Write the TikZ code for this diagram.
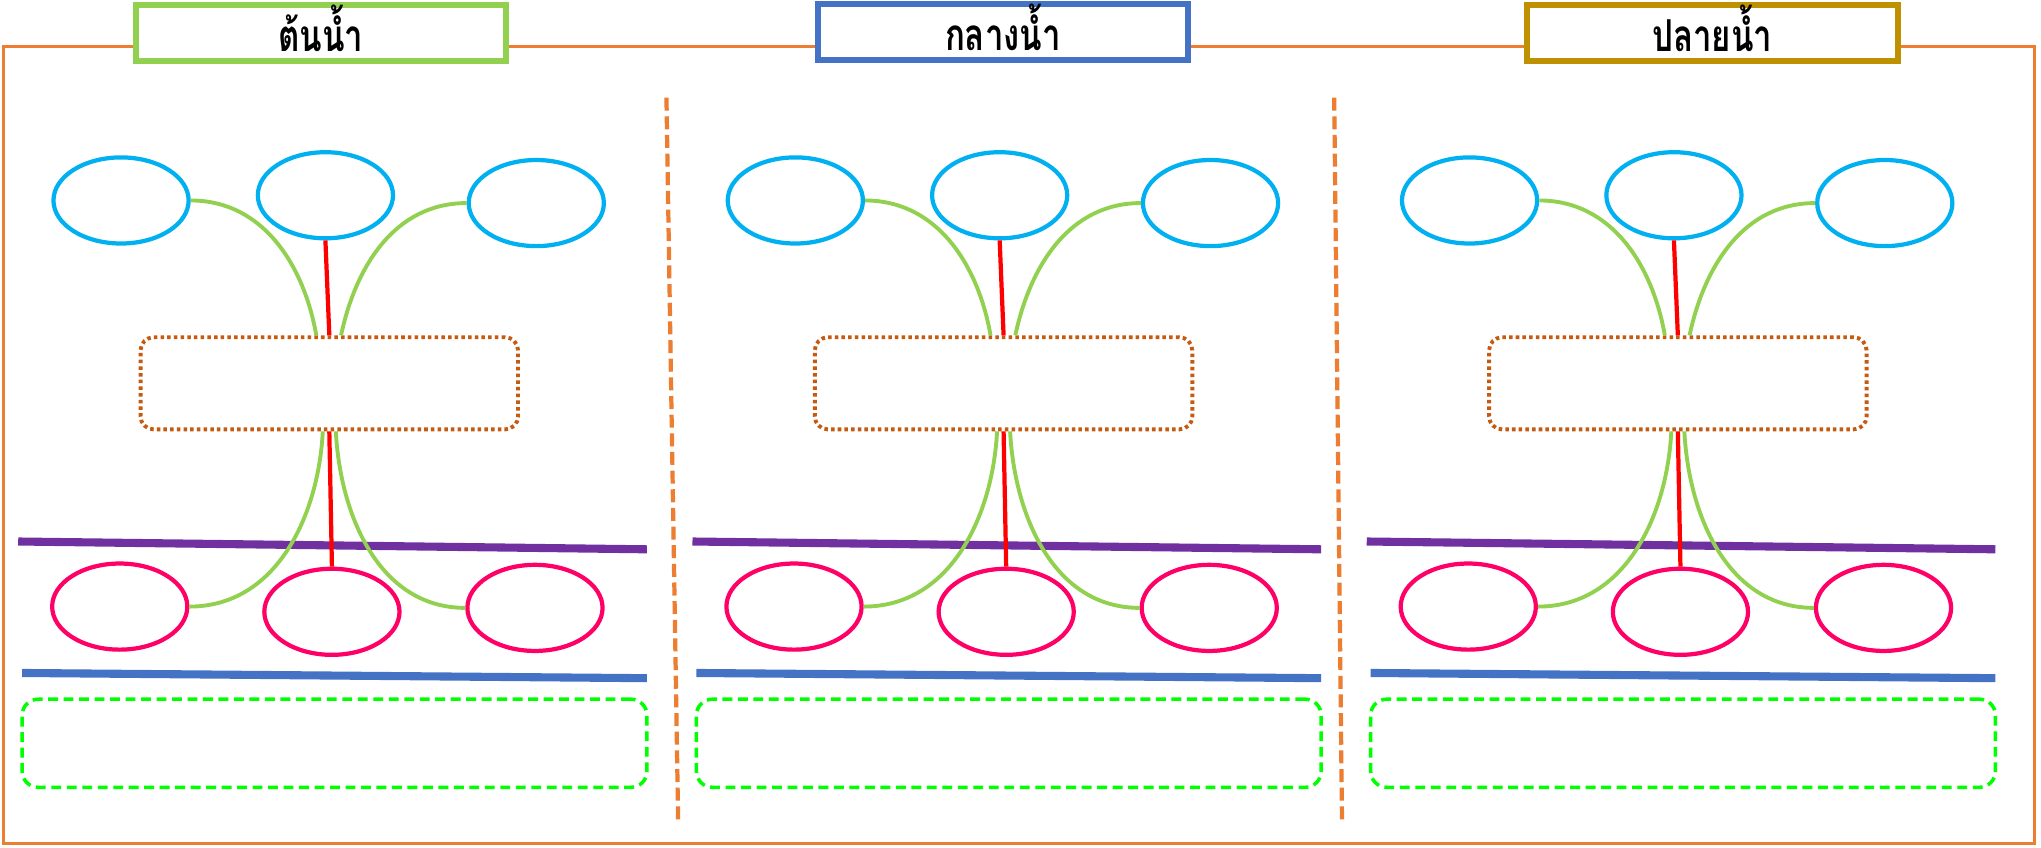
\documentclass[tikz,border=0pt]{standalone}
\usepackage{fontspec}
\newfontfamily\thaifont[Script=Thai,FakeStretch=0.75]{Loma}
\usetikzlibrary{shapes.geometric,calc}
\definecolor{frameorange}{HTML}{ED7D31}
\definecolor{headgreen}{HTML}{92D050}
\definecolor{headblue}{HTML}{4472C4}
\definecolor{headgold}{HTML}{BF9000}
\definecolor{skyblue}{HTML}{00B0F0}
\definecolor{rosered}{HTML}{FF0066}
\definecolor{rustbrown}{HTML}{C55A11}
\definecolor{riverpurple}{HTML}{7030A0}
\definecolor{brightgreen}{HTML}{00FF00}
\tikzset{
  oval/.style={ellipse, draw, line width=1.2pt, minimum width=1.35cm, minimum height=0.86cm, inner sep=0pt},
  topoval/.style={oval, draw=skyblue},
  lowoval/.style={oval, draw=rosered},
  notebox/.style={draw=rustbrown, line width=1.1pt, dash pattern=on 1pt off 0.9pt, rounded corners=0.13cm,
    minimum width=3.77cm, minimum height=0.92cm, inner sep=0pt},
  basebox/.style={draw=brightgreen, line width=1pt, dash pattern=on 2.8pt off 1.6pt, rounded corners=0.16cm,
    minimum width=6.24cm, minimum height=0.88cm, inner sep=0pt},
  headbox/.style={draw, fill=white, line width=1.7pt, minimum width=3.7cm, minimum height=0.56cm, inner sep=0pt,
    text height=11pt, text depth=0.4pt, font=\thaifont\fontsize{12.5}{14}\selectfont\bfseries},
  link/.style={headgreen, line width=1.1pt},
  stem/.style={red, line width=1.2pt},
  divider/.style={frameorange, line width=1.2pt, dash pattern=on 3.7pt off 1.6pt}
}
\begin{document}
\begin{tikzpicture}[x=0.013cm,y=0.013cm]
\useasboundingbox (0,0) rectangle (1568,-651);
% outer frame and dividers
\draw[frameorange, line width=0.8pt] (3,-36) rectangle (1563,-648);
\draw[divider] (512,-75) -- (521,-632);
\draw[divider] (1025,-75) -- (1031,-632);
% three panels
\foreach \i/\dx in {1/0,2/518,3/1036}{
  \draw[riverpurple, line width=2.3pt] (\dx+14,-416) -- (\dx+497,-422);
  \draw[headblue, line width=2.3pt] (\dx+17,-517) -- (\dx+497,-521);
  \node[topoval] (tl\i) at (\dx+93,-154) {};
  \node[topoval] (tm\i) at (\dx+250,-150) {};
  \node[topoval] (tr\i) at (\dx+412,-156) {};
  \node[notebox] (box\i) at (\dx+253,-294.5) {};
  \node[lowoval] (bl\i) at (\dx+92,-466) {};
  \node[lowoval] (bm\i) at (\dx+255,-470) {};
  \node[lowoval] (br\i) at (\dx+411,-467) {};
  \node[basebox] (base\i) at (\dx+257,-571) {};
  \draw[link] (tl\i.east) to[out=0,in=100] ($(box\i.north)+(-10,0)$);
  \draw[link] (tr\i.west) to[out=180,in=78] ($(box\i.north)+(9,0)$);
  \draw[link] ($(box\i.south)+(-5,0)$) to[out=-93,in=0] (bl\i.east);
  \draw[link] ($(box\i.south)+(5,0)$) to[out=-87,in=180] (br\i.west);
  \draw[stem] (tm\i.south) -- (box\i.north);
  \draw[stem] (box\i.south) -- (bm\i.north);
}
% headings
\node[headbox, draw=headgreen] (head1) at (246.5,-25.5) {ต้นน้ำ};
\node[headbox, draw=headblue] (head2) at (770.5,-24.5) {กลางน้ำ};
\node[headbox, draw=headgold] (head3) at (1315.5,-25.5) {ปลายน้ำ};
\end{tikzpicture}
\end{document}
